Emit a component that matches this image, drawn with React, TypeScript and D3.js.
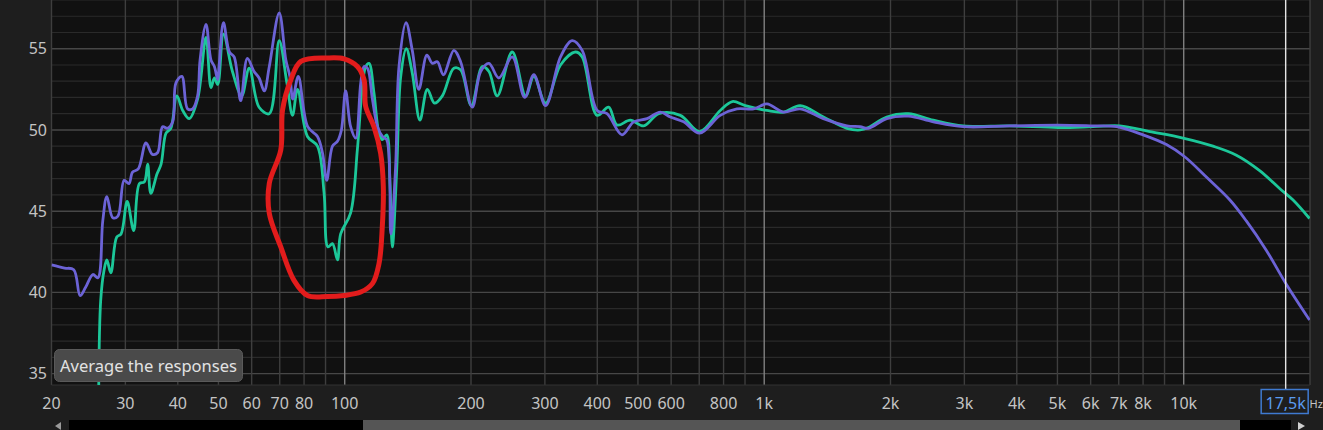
import React, { useEffect } from "react";
import * as d3 from "d3";

const W = 1323;
const H = 430;

// Purple response (Hz, dB)
const purpleFreq = [20, 21.5, 22.6, 23.4, 24.1, 25.1, 25.8, 26.5, 27.1, 28.0, 28.8, 29.8, 30.6, 31.2, 32.2, 33.6, 34.8, 35.8, 36.8, 37.8, 38.9, 39.6, 40.9, 42.2, 43.4, 44.6, 45.2, 46.7, 48.0, 48.9, 49.8, 50.2, 51.4, 53.1, 54.5, 56.5, 58.6, 60.8, 62.5, 64.3, 66.1, 69.8, 72.4, 74.0, 75.2, 77.5, 81.6, 86.1, 88.5, 90.6, 93.5, 96.1, 98.2, 100.5, 103.3, 106.2, 109.2, 111.2, 113.3, 116.4, 119.7, 123.0, 125.9, 128.8, 132.2, 134.7, 140.0, 144.9, 150.2, 157.0, 161.8, 166.3, 171.9, 182.0, 188.9, 201.4, 210.9, 220.7, 233.0, 250.8, 268.5, 282.4, 301.2, 326.9, 348.5, 368.2, 399.7, 422.1, 458.1, 488.5, 525.8, 565.4, 597.2, 642.7, 701.4, 785.6, 860.7, 943.9, 1015, 1111, 1218, 1384, 1574, 1693, 1771, 1959, 2206, 2530, 2982, 3853, 5020, 6082, 6917, 8000, 9095, 10055, 11324, 12870, 14100, 15730, 17560, 19950];
const purpleDb = [41.7, 41.5, 41.4, 39.8, 40.3, 41.1, 40.9, 44.4, 45.9, 44.6, 44.7, 46.9, 46.7, 47.4, 47.6, 49.2, 48.5, 48.6, 50.2, 50.1, 50.5, 52.9, 53.3, 51.3, 51.3, 52.1, 54.3, 56.5, 54.3, 53.9, 53.1, 54.0, 56.6, 54.8, 54.5, 51.8, 54.4, 53.6, 53.2, 52.4, 53.9, 57.2, 54.3, 53.3, 51.9, 53.3, 50.2, 49.6, 48.6, 46.9, 49.0, 49.3, 50.0, 52.4, 50.2, 49.5, 52.9, 53.9, 53.8, 51.9, 50.2, 49.6, 49.4, 43.6, 47.7, 53.9, 56.6, 54.9, 52.5, 54.6, 54.1, 54.2, 53.4, 54.9, 54.2, 51.4, 53.6, 54.1, 53.2, 54.5, 52.0, 53.4, 51.5, 54.5, 55.5, 54.9, 51.2, 51.0, 49.7, 50.5, 50.7, 51.1, 50.8, 50.5, 49.8, 50.9, 51.3, 51.3, 51.6, 51.1, 51.3, 50.7, 50.25, 50.2, 50.1, 50.7, 50.85, 50.5, 50.2, 50.25, 50.3, 50.25, 50.2, 49.7, 49.1, 48.35, 47.1, 45.7, 44.4, 42.6, 40.5, 38.3];

// Green response (Hz, dB)
const greenFreq = [25.9, 26.2, 26.7, 27.1, 27.7, 28.6, 29.3, 30.3, 31.4, 32.4, 33.3, 33.9, 34.5, 35.7, 36.5, 37.5, 38.5, 39.8, 41.1, 42.6, 44.6, 46.7, 48.0, 48.9, 49.8, 51.4, 54.0, 56.8, 59.2, 62.5, 66.1, 69.8, 72.8, 75.1, 77.2, 81.5, 86.1, 89.3, 91.2, 93.5, 96.1, 97.8, 103.3, 107.2, 110.2, 112.2, 114.3, 117.4, 120.7, 123.0, 125.9, 128.2, 129.9, 133.1, 136.0, 140.2, 144.9, 151.1, 157.4, 163.7, 170.9, 182.0, 188.9, 200.4, 212.8, 220.7, 231.0, 250.8, 269.9, 282.4, 301.2, 326.9, 354.8, 368.2, 399.7, 425.7, 445.9, 479.6, 516.0, 560.2, 631.0, 701.4, 785.6, 839.3, 901.3, 1015, 1111, 1218, 1384, 1574, 1693, 1771, 1959, 2206, 2530, 2982, 3853, 5020, 6082, 7042, 8299, 9961, 11743, 13353, 15170, 16930, 18200, 19950];
const greenDb = [33.0, 39.5, 41.4, 42.0, 41.2, 43.4, 43.6, 45.6, 43.8, 46.7, 46.8, 47.9, 46.1, 47.3, 47.9, 49.8, 50.1, 52.1, 51.2, 50.7, 51.9, 55.7, 52.6, 53.2, 52.8, 55.9, 53.6, 52.1, 53.8, 51.4, 51.0, 55.5, 52.9, 50.9, 52.5, 49.6, 49.0, 46.1, 42.8, 43.0, 42.0, 43.6, 44.9, 48.8, 52.7, 53.9, 54.1, 52.3, 49.8, 49.4, 49.7, 46.7, 42.8, 47.7, 53.3, 55.0, 53.5, 50.6, 52.5, 51.65, 52.1, 53.8, 53.7, 51.5, 53.9, 53.6, 52.1, 54.8, 52.1, 53.3, 51.65, 54.0, 54.8, 54.5, 50.9, 51.4, 50.3, 50.6, 50.25, 51.0, 50.9, 49.9, 51.2, 51.75, 51.5, 51.2, 51.1, 51.5, 50.8, 50.1, 50.0, 50.15, 50.8, 51.0, 50.6, 50.25, 50.25, 50.15, 50.2, 50.25, 49.9, 49.5, 49.0, 48.45, 47.5, 46.4, 45.7, 44.55];

// Axis ticks
const xGridFreqs = [20, 30, 40, 50, 60, 70, 80, 90, 200, 300, 400, 500, 600, 700, 800, 900, 2000, 3000, 4000, 5000, 6000, 7000, 8000, 9000, 20000];
const xDecadeFreqs = [100, 1000, 10000];
const xTickFreqs = [20, 30, 40, 50, 60, 70, 80, 100, 200, 300, 400, 500, 600, 800, 1000, 2000, 3000, 4000, 5000, 6000, 7000, 8000, 10000];
const xTickLabels = ["20", "30", "40", "50", "60", "70", "80", "100", "200", "300", "400", "500", "600", "800", "1k", "2k", "3k", "4k", "5k", "6k", "7k", "8k", "10k"];
const yMajorValues = [35, 40, 45, 50, 55];
const yMinorValues = [36, 37, 38, 39, 41, 42, 43, 44, 46, 47, 48, 49, 51, 52, 53, 54, 56, 57, 58];
const yTickLabels = ["35", "40", "45", "50", "55"];

const cursorFreq = 17500;
const cursorLabel = "17,5k";
const unitLabel = "Hz";
const tooltipText = "Average the responses";

// Hand-drawn red annotation loop (Hz, dB)
const annotFreq = [78.6, 90.9, 99.6, 107.2, 111.2, 112.2, 117.4, 121.8, 123.6, 122.9, 120.7, 116.4, 109.2, 99.6, 90.9, 81.5, 75.7, 70.4, 66.1, 66.1, 70.4, 71.1, 74.4];
const annotDb = [54.22, 54.43, 54.38, 53.91, 53.09, 51.44, 50.2, 48.56, 46.5, 44.03, 41.77, 40.54, 40.02, 39.81, 39.75, 39.81, 40.74, 42.8, 44.86, 46.71, 48.77, 51.23, 53.09];

const FONT = "'Noto Sans', 'Open Sans', 'DejaVu Sans', sans-serif";

export default function App() {
  useEffect(() => {
    document.body.style.margin = "0";
    document.body.style.background = "#1e1e1e";
  }, []);

  const plotTop = 0;
  const plotBottom = 385;
  const x = d3.scaleLog().domain([20, 20000]).range([51.5, 1310]);
  const y = d3.scaleLinear().domain([34.3, 58.0]).range([plotBottom, plotTop]);
  const plotLeft = x(20);
  const plotRight = x(20000);

  const line = d3
    .line<[number, number]>()
    .x((d) => x(d[0]))
    .y((d) => y(d[1]))
    .curve(d3.curveCatmullRom.alpha(0.5));

  const purplePts = purpleFreq.map((f, i) => [f, purpleDb[i]] as [number, number]);
  const greenPts = greenFreq.map((f, i) => [f, greenDb[i]] as [number, number]);
  const annotPts = annotFreq.map((f, i) => [f, annotDb[i]] as [number, number]);
  const annotLine = d3
    .line<[number, number]>()
    .x((d) => x(d[0]))
    .y((d) => y(d[1]))
    .curve(d3.curveCatmullRomClosed.alpha(0.5));

  const cx = x(cursorFreq);

  return (
    <svg
      width={W}
      height={H}
      style={{ position: "absolute", left: 0, top: 0, display: "block", background: "#1e1e1e" }}
    >
      <defs>
        <clipPath id="plotClip">
          <rect x={plotLeft} y={plotTop} width={plotRight - plotLeft} height={plotBottom - plotTop} />
        </clipPath>
      </defs>
      <rect x={0} y={0} width={W} height={H} fill="#1e1e1e" />
      <rect x={plotLeft} y={plotTop} width={plotRight - plotLeft} height={plotBottom - plotTop} fill="#111111" />

      {/* horizontal grid */}
      {yMinorValues.map((v) => (
        <line key={"hm" + v} x1={plotLeft} x2={plotRight} y1={y(v)} y2={y(v)} stroke="#2a2a2a" strokeWidth={1.2} />
      ))}
      {yMajorValues.map((v) => (
        <line key={"hM" + v} x1={plotLeft} x2={plotRight} y1={y(v)} y2={y(v)} stroke="#474747" strokeWidth={1.4} />
      ))}
      {/* vertical grid */}
      {xGridFreqs.map((f) => (
        <line key={"v" + f} x1={x(f)} x2={x(f)} y1={plotTop} y2={plotBottom} stroke="#3e3e3e" strokeWidth={1.4} />
      ))}
      {xDecadeFreqs.map((f) => (
        <line key={"vd" + f} x1={x(f)} x2={x(f)} y1={plotTop} y2={plotBottom} stroke="#808080" strokeWidth={1.4} />
      ))}
      <line x1={plotLeft} x2={plotRight} y1={plotBottom} y2={plotBottom} stroke="#333" strokeWidth={1} />

      {/* curves */}
      <g clipPath="url(#plotClip)">
        <path d={line(greenPts) || ""} fill="none" stroke="#1cc799" strokeWidth={2.8} strokeLinejoin="round" />
        <path d={line(purplePts) || ""} fill="none" stroke="#6c63d6" strokeWidth={2.8} strokeLinejoin="round" />
      </g>

      {/* cursor */}
      <line x1={cx} x2={cx} y1={plotTop} y2={389} stroke="#e6e6e6" strokeWidth={1.4} />

      {/* red annotation */}
      <path d={annotLine(annotPts) || ""} fill="none" stroke="#e21c1c" strokeWidth={5} strokeLinejoin="round" />

      {/* y labels */}
      {yMajorValues.map((v, i) => (
        <text key={"yl" + v} x={47} y={y(v)} dy="0.35em" textAnchor="end" fill="#c4c4c4" fontSize={16} fontFamily={FONT}>
          {yTickLabels[i]}
        </text>
      ))}

      {/* x labels */}
      {xTickFreqs.map((f, i) => (
        <text key={"xl" + f} x={x(f)} y={409} textAnchor="middle" fill="#c4c4c4" fontSize={16} fontFamily={FONT}>
          {xTickLabels[i]}
        </text>
      ))}
      <text x={1309.5} y={408} fill="#c4c4c4" fontSize={11} fontFamily={FONT}>
        {unitLabel}
      </text>
      {/* cursor label */}
      <rect x={cx - 24.5} y={389.5} width={47} height={24} fill="#1e1e1e" stroke="#3f7ad0" strokeWidth={1.5} />
      <text x={cx} y={409} textAnchor="middle" fill="#5a9bf0" fontSize={16} fontFamily={FONT}>
        {cursorLabel}
      </text>

      {/* tooltip */}
      <rect x={54.5} y={349.5} width={188} height={32} rx={5} fill="#4a4a4a" stroke="#5a5a5a" strokeWidth={1} />
      <text x={60} y={372} fill="#e2e2e2" fontSize={15.5} fontFamily={FONT} textLength={177} lengthAdjust="spacingAndGlyphs">
        {tooltipText}
      </text>

      {/* scrollbar */}
      <rect x={0} y={420} width={W} height={10} fill="#1e1e1e" />
      <rect x={69} y={420} width={1222} height={10} fill="#000000" />
      <rect x={363} y={420} width={877} height={10} fill="#555555" />
      <path d="M61,422 L55,426 L61,430 Z" fill="#9a9a9a" />
      <path d="M1298,422 L1305,426 L1298,430 Z" fill="#d0d0d0" />
    </svg>
  );
}
